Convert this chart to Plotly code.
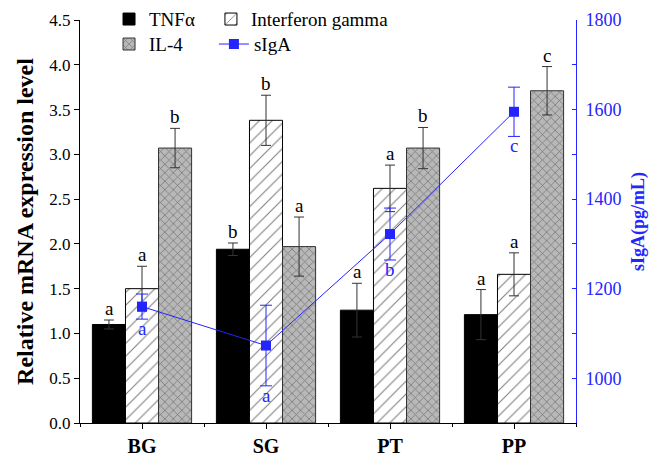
import plotly.graph_objects as go

categories = ["BG", "SG", "PT", "PP"]
tnf = [1.10, 1.94, 1.26, 1.21]
tnf_err = [0.05, 0.07, 0.30, 0.28]
ifn = [1.50, 3.38, 2.62, 1.66]
ifn_err = [0.25, 0.28, 0.26, 0.24]
il4 = [3.07, 1.97, 3.07, 3.71]
il4_err = [0.22, 0.33, 0.23, 0.27]
siga = [1160, 1073, 1322, 1595]
siga_err = [28, 90, 58, 55]

tnf_letters = ["a", "b", "a", "a"]
ifn_letters = ["a", "b", "a", "a"]
il4_letters = ["b", "a", "b", "c"]
siga_letters = ["a", "a", "b", "c"]

x = list(range(len(categories)))
SERIF = "Liberation Serif"
BLUE = "#2424ff"
ERRC = "#333333"

fig = go.Figure()
fig.add_trace(go.Bar(
    x=x, y=tnf, name="TNFα", legend="legend", showlegend=True,
    marker=dict(color="black", line=dict(color="black", width=1)),
    error_y=dict(type="data", array=tnf_err, symmetric=True, color=ERRC, thickness=1, width=5),
))
fig.add_trace(go.Bar(
    x=x, y=ifn, name="Interferon gamma", legend="legend2", showlegend=True,
    marker=dict(color="white", line=dict(color="black", width=1),
                pattern=dict(shape="/", fgcolor="black", bgcolor="white", size=9, solidity=0.12, fillmode="overlay")),
    error_y=dict(type="data", array=ifn_err, symmetric=True, color=ERRC, thickness=1, width=5),
))
fig.add_trace(go.Bar(
    x=x, y=il4, name="IL-4", legend="legend3", showlegend=True,
    marker=dict(color="#a8a8a8", line=dict(color="#333333", width=1),
                pattern=dict(shape="x", fgcolor="#3a3a3a", bgcolor="#b8b8b8", size=6, solidity=0.25, fillmode="overlay")),
    error_y=dict(type="data", array=il4_err, symmetric=True, color=ERRC, thickness=1, width=5),
))
fig.add_trace(go.Scatter(
    x=x, y=siga, name="sIgA", yaxis="y2", legend="legend4", showlegend=True, mode="lines+markers",
    line=dict(color=BLUE, width=1),
    marker=dict(symbol="square", size=10, color=BLUE),
    error_y=dict(type="data", array=siga_err, symmetric=True, color=BLUE, thickness=1, width=6),
))

annotations = []
offsets = [-33, 0, 33]
for vals, errs, letters, off in [(tnf, tnf_err, tnf_letters, offsets[0]),
                                  (ifn, ifn_err, ifn_letters, offsets[1]),
                                  (il4, il4_err, il4_letters, offsets[2])]:
    for i in x:
        annotations.append(dict(x=i, y=vals[i] + errs[i], xref="x", yref="y", text=letters[i],
                                showarrow=False, xshift=off, yanchor="bottom", yshift=-1,
                                font=dict(family=SERIF, size=19, color="black")))
for i in x:
    annotations.append(dict(x=i, y=siga[i] - siga_err[i], xref="x", yref="y2", text=siga_letters[i],
                            showarrow=False, yanchor="top", yshift=3,
                            font=dict(family=SERIF, size=19, color=BLUE)))

legend_common = dict(orientation="h", xanchor="left", yanchor="middle",
                     bgcolor="rgba(0,0,0,0)", font=dict(family=SERIF, size=19, color="black"))

fig.update_layout(
    width=664, height=460,
    showlegend=True,
    margin=dict(l=72, r=96, t=12, b=45, autoexpand=False),
    paper_bgcolor="white", plot_bgcolor="white",
    barmode="group", bargap=0.2, bargroupgap=0,
    font=dict(family=SERIF, size=15, color="black"),
    xaxis=dict(range=[-0.5, 3.5], tickvals=x, ticktext=categories,
               showline=True, linecolor="black", linewidth=1, mirror=False,
               ticks="outside", ticklen=5, tickcolor="black",
               minor=dict(tick0=0.5, dtick=1, ticks="outside", ticklen=3, tickcolor="black"),
               tickfont=dict(family=SERIF, size=20, color="black", weight="bold"),
               showgrid=False, zeroline=False, automargin=False),
    yaxis=dict(range=[0, 4.5], dtick=0.5, tickformat=".1f",
               showline=True, linecolor="black", linewidth=1,
               ticks="outside", ticklen=5, tickcolor="black",
               tickfont=dict(family=SERIF, size=17, color="black"),
               title=dict(text="Relative mRNA expression level", standoff=8,
                          font=dict(family=SERIF, size=24, color="black", weight="bold")),
               showgrid=False, zeroline=False, automargin=False),
    yaxis2=dict(range=[900, 1800], overlaying="y", side="right",
                tickvals=[1000, 1200, 1400, 1600, 1800],
                showline=True, linecolor=BLUE, linewidth=1,
                ticks="inside", ticklen=4, tickcolor=BLUE, ticklabelstandoff=5,
                minor=dict(tick0=900, dtick=100, ticks="inside", ticklen=4, tickcolor=BLUE),
                tickfont=dict(family=SERIF, size=18, color=BLUE),
                title=dict(text="sIgA(pg/mL)", standoff=10,
                           font=dict(family=SERIF, size=18, color=BLUE, weight="bold")),
                showgrid=False, zeroline=False, automargin=False),
    legend=dict(x=0.0585, y=1.002, **legend_common),
    legend2=dict(x=0.264, y=1.002, **legend_common),
    legend3=dict(x=0.0585, y=0.940, **legend_common),
    legend4=dict(x=0.270, y=0.940, **legend_common),
    annotations=annotations,
)

fig.write_html("out.html")
